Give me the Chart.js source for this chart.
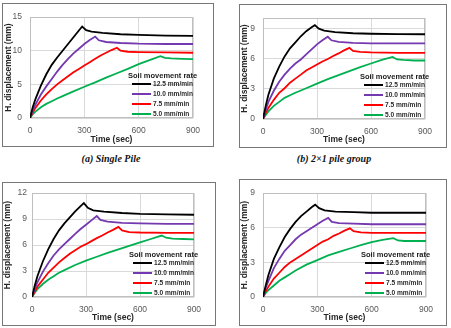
<!DOCTYPE html>
<html>
<head>
<meta charset="utf-8">
<script src="https://cdn.jsdelivr.net/npm/chart.js@4.4.1/dist/chart.umd.min.js"></script>
<style>
  body { margin: 0; background: #fff; width: 451px; height: 328px; position: relative; overflow: hidden; }
  .box { position: absolute; border: 1px solid #777; box-sizing: border-box; }
  canvas { position: absolute; }
  .cap { position: absolute; font: italic bold 10px "Liberation Serif", "Times New Roman", serif; color: #111;
         transform: translateX(-50%); white-space: nowrap; line-height: 12px; }
</style>
</head>
<body>
<div class="cap" style="left:111px; top:153px">(a) Single Pile</div>
<div class="cap" style="left:334px; top:153px">(b) 2×1 pile group</div>

<script>
// time stamps (sec) for each soil movement rate
const time125 = [0, 15, 30, 60, 90, 120, 150, 180, 210, 240, 270, 288, 310, 340, 400, 500, 600, 750, 900];
const time100 = [0, 15, 30, 60, 90, 120, 150, 180, 210, 240, 270, 300, 330, 360, 380, 420, 500, 600, 750, 900];
const time75  = [0, 15, 30, 60, 90, 120, 150, 180, 210, 240, 270, 300, 330, 360, 390, 420, 450, 480, 500, 540, 600, 750, 900];
const time50  = [0, 15, 30, 60, 90, 120, 150, 180, 240, 300, 360, 420, 480, 540, 600, 660, 720, 745, 780, 840, 900];

const rates = ['12.5 mm/min', '10.0 mm/min', '7.5 mm/min', '5.0 mm/min'];
const colors = ['#000000', '#7438b0', '#ff0000', '#00b050'];
const legendTitle = 'Soil movement rate';

// (a) single pile
const a125 = [0, 1.6, 2.8, 4.8, 6.5, 7.9, 9.0, 10.0, 11.0, 12.0, 13.0, 13.6, 13.05, 12.85, 12.65, 12.45, 12.35, 12.25, 12.2];
const a100 = [0, 1.1, 2.0, 3.5, 4.7, 5.8, 6.9, 7.9, 8.8, 9.6, 10.3, 11.0, 11.6, 12.1, 11.55, 11.3, 11.15, 11.05, 11.0, 11.0];
const a75  = [0, 0.8, 1.5, 2.6, 3.5, 4.3, 5.0, 5.6, 6.2, 6.8, 7.3, 7.8, 8.3, 8.8, 9.3, 9.7, 10.1, 10.45, 10.0, 9.85, 9.8, 9.75, 9.7];
const a50  = [0, 0.55, 0.95, 1.6, 2.1, 2.5, 2.9, 3.25, 3.95, 4.65, 5.3, 6.0, 6.65, 7.3, 8.0, 8.6, 9.2, 8.95, 8.85, 8.8, 8.75];

// (b) 2x1 pile group
const b125 = [0, 1.3, 2.4, 4.0, 5.2, 6.2, 7.0, 7.6, 8.2, 8.7, 9.1, 9.3, 8.95, 8.75, 8.6, 8.5, 8.45, 8.42, 8.4];
const b100 = [0, 0.9, 1.7, 2.8, 3.7, 4.4, 5.0, 5.5, 5.9, 6.4, 6.9, 7.4, 7.8, 8.15, 7.8, 7.65, 7.55, 7.5, 7.5, 7.5];
const b75  = [0, 0.6, 1.1, 1.9, 2.6, 3.05, 3.6, 4.0, 4.4, 4.8, 5.1, 5.4, 5.7, 5.95, 6.25, 6.5, 6.8, 7.05, 6.75, 6.65, 6.6, 6.55, 6.55];
const b50  = [0, 0.4, 0.75, 1.3, 1.7, 2.1, 2.35, 2.6, 3.05, 3.5, 3.95, 4.35, 4.75, 5.15, 5.5, 5.85, 6.15, 5.9, 5.85, 5.8, 5.8];

// (c)
const c125 = [0, 1.3, 2.4, 4.1, 5.5, 6.7, 7.7, 8.5, 9.2, 9.9, 10.5, 10.85, 10.3, 10.0, 9.85, 9.7, 9.6, 9.55, 9.5];
const c100 = [0, 0.9, 1.7, 2.9, 3.9, 4.8, 5.5, 6.1, 6.7, 7.3, 7.85, 8.35, 8.85, 9.35, 8.9, 8.7, 8.55, 8.5, 8.45, 8.45];
const c75  = [0, 0.6, 1.2, 2.0, 2.8, 3.4, 4.0, 4.5, 5.0, 5.4, 5.8, 6.1, 6.45, 6.8, 7.1, 7.45, 7.75, 8.1, 7.7, 7.5, 7.45, 7.4, 7.4];
const c50  = [0, 0.5, 0.9, 1.5, 2.0, 2.4, 2.8, 3.1, 3.7, 4.2, 4.65, 5.1, 5.5, 5.9, 6.3, 6.7, 7.1, 6.85, 6.75, 6.7, 6.65];

// (d)
const d125 = [0, 1.0, 1.9, 3.3, 4.3, 5.2, 5.9, 6.5, 7.0, 7.4, 7.8, 8.0, 7.7, 7.5, 7.4, 7.35, 7.3, 7.3, 7.3];
const d100 = [0, 0.8, 1.4, 2.5, 3.3, 4.0, 4.5, 5.0, 5.4, 5.7, 6.0, 6.3, 6.6, 6.85, 6.5, 6.4, 6.35, 6.3, 6.3, 6.3];
const d75  = [0, 0.5, 0.9, 1.6, 2.1, 2.6, 3.0, 3.3, 3.6, 3.9, 4.2, 4.5, 4.8, 5.0, 5.3, 5.5, 5.75, 5.95, 5.7, 5.6, 5.55, 5.55, 5.55];
const d50  = [0, 0.35, 0.6, 1.0, 1.4, 1.7, 2.0, 2.3, 2.8, 3.2, 3.6, 3.9, 4.2, 4.5, 4.75, 4.95, 5.1, 4.9, 4.85, 4.85, 4.85];

const times = [time125, time100, time75, time50];

const frame = {
    id: 'frame',
    beforeDatasetsDraw(chart) {
        const { ctx, chartArea: a } = chart;
        ctx.save();
        ctx.strokeStyle = '#bfbfbf';
        ctx.lineWidth = 1;
        ctx.strokeRect(Math.round(a.left) + 0.5, Math.round(a.top) + 0.5, Math.round(a.width) - 1, Math.round(a.height) - 1);
        ctx.restore();
    }
};

const insideLegend = {
    id: 'insideLegend',
    afterDatasetsDraw(chart) {
        const { ctx, chartArea: a } = chart;
        ctx.save();
        ctx.textBaseline = 'middle';
        ctx.fillStyle = '#1a1a1a';
        ctx.font = 'bold 7.5px "Liberation Sans", Arial, sans-serif';
        ctx.fillText(legendTitle, a.right - 65, a.bottom - 42);
        ctx.font = 'bold 6.6px "Liberation Sans", Arial, sans-serif';
        chart.data.datasets.forEach((ds, i) => {
            const y = a.bottom - 34 + i * 10;
            ctx.strokeStyle = ds.borderColor;
            ctx.lineWidth = 2;
            ctx.beginPath();
            ctx.moveTo(a.right - 61, y);
            ctx.lineTo(a.right - 42, y);
            ctx.stroke();
            ctx.fillStyle = '#2b2b2b';
            ctx.fillText(ds.label, a.right - 40, y);
        });
        ctx.restore();
    }
};

function panel(box, area, series, yMax, opt) {
    const div = document.createElement('div');
    div.className = 'box';
    div.style.left = box[0] + 'px';
    div.style.top = box[1] + 'px';
    div.style.width = (box[2] - box[0]) + 'px';
    div.style.height = (box[3] - box[1]) + 'px';
    document.body.appendChild(div);

    const cx = box[0] + 1, cy = box[1] + 1;
    const cw = box[2] - box[0] - 2, ch = box[3] - box[1] - 2;
    const canvas = document.createElement('canvas');
    canvas.width = cw;
    canvas.height = ch;
    canvas.style.left = cx + 'px';
    canvas.style.top = cy + 'px';
    document.body.appendChild(canvas);

    const tickFont = { family: '"Liberation Sans", Arial, sans-serif', size: 8.5 };
    const titleFont = { family: '"Liberation Sans", Arial, sans-serif', size: 8.5, weight: 'bold', lineHeight: 1 };

    new Chart(canvas, {
        type: 'line',
        data: {
            datasets: series.map((vals, i) => ({
                label: rates[i],
                data: vals.map((v, k) => ({ x: times[i][k], y: v })),
                borderColor: colors[i],
                borderWidth: 1.8,
                pointRadius: 0,
                tension: 0,
                fill: false
            }))
        },
        options: {
            responsive: false,
            animation: false,
            layout: { padding: { left: 0, top: area[1] - cy, right: (cx + cw) - area[2], bottom: 0 } },
            plugins: { legend: { display: false }, tooltip: { enabled: false } },
            scales: {
                x: {
                    type: 'linear', min: 0, max: 900,
                    ticks: { stepSize: 300, padding: 8, font: tickFont, color: '#595959', maxRotation: 0 },
                    grid: { color: '#d9d9d9', drawTicks: false },
                    border: { display: false },
                    title: { display: true, text: 'Time (sec)', font: titleFont, color: '#262626', padding: { top: 0, bottom: opt.xt } },
                    afterFit: s => { s.height = (cy + ch) - area[3]; }
                },
                y: {
                    min: 0, max: yMax,
                    ticks: { stepSize: opt.step, padding: opt.tp, font: tickFont, color: '#595959', includeBounds: false },
                    grid: { color: '#d9d9d9', drawTicks: false },
                    border: { display: false },
                    title: { display: true, text: 'H. displacement (mm)', font: titleFont, color: '#262626', padding: { top: opt.yt, bottom: 0 } },
                    afterFit: s => { s.width = area[0] - cx; }
                }
            }
        },
        plugins: [frame, insideLegend]
    });
}

panel([2, 3, 214, 147], [30, 10, 193, 118], [a125, a100, a75, a50], 15, { step: 5, tp: 8, yt: 1.25, xt: 2.25 });
panel([239, 4, 447, 148], [263, 12, 425, 119], [b125, b100, b75, b50], 10, { step: 3, tp: 8, yt: 0, xt: 2.75 });
panel([2, 182, 216, 326], [32, 188, 194, 297], [c125, c100, c75, c50], 12, { step: 3, tp: 5, yt: 0.25, xt: 2.75 });
panel([239, 179, 447, 326], [263, 187, 426, 297], [d125, d100, d75, d50], 9, { step: 3, tp: 8, yt: 0, xt: 2.75 });
</script>
</body>
</html>
